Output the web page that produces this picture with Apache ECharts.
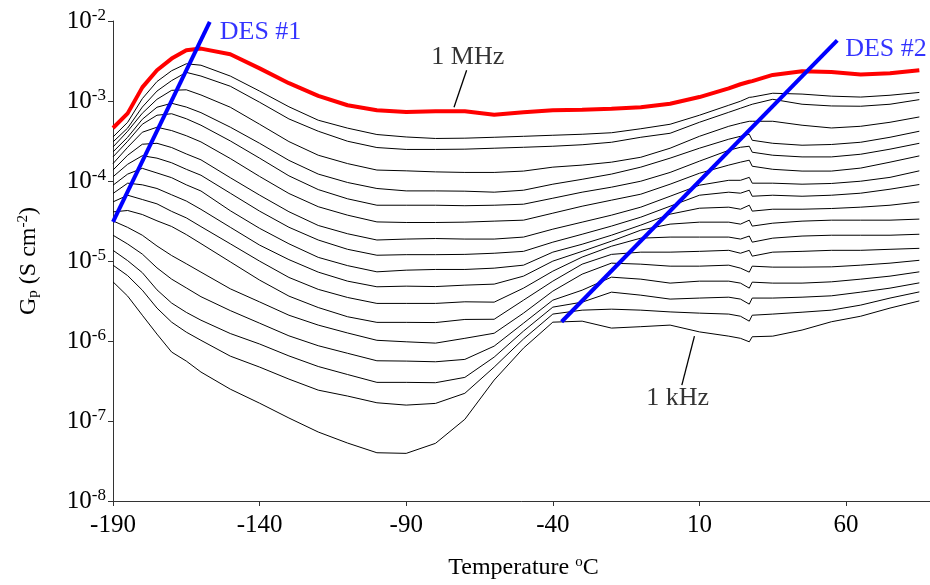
<!DOCTYPE html>
<html><head><meta charset="utf-8">
<script src="https://cdn.jsdelivr.net/npm/echarts/dist/echarts.min.js"></script>
<style>html,body{margin:0;padding:0;background:#fff}#chart{width:930px;height:585px}</style>
</head><body><div id="chart"></div>
<script>
// Temperature (°C) at which every frequency curve is sampled
const temperatureC = [-190,-185,-180,-175,-170,-165,-160,-150,-140,-130,-120,-110,-100,-90,-80,-70,-60,-50,-40,-30,-20,-10,0,10,20,24,27,28,35,45,55,65,75,85];

// Gp (S cm^-2), 1 MHz (red) down to 1 kHz
const gp1MHz = [4.6e-4,7.0e-4,1.48e-3,2.42e-3,3.39e-3,4.31e-3,4.52e-3,3.84e-3,2.56e-3,1.67e-3,1.16e-3,8.85e-4,7.67e-4,7.30e-4,7.44e-4,7.44e-4,6.73e-4,7.23e-4,7.67e-4,7.77e-4,8.0e-4,8.36e-4,9.24e-4,1.12e-3,1.44e-3,1.62e-3,1.74e-3,1.77e-3,2.12e-3,2.35e-3,2.31e-3,2.15e-3,2.22e-3,2.42e-3];
const gpB01 = [3.55e-4,5.42e-4,1.07e-3,1.75e-3,2.39e-3,2.92e-3,2.80e-3,2.05e-3,1.33e-3,8.47e-4,5.75e-4,4.58e-4,3.81e-4,3.55e-4,3.40e-4,3.43e-4,3.52e-4,3.62e-4,3.73e-4,3.84e-4,4.01e-4,4.50e-4,5.12e-4,6.64e-4,8.85e-4,9.93e-4,1.11e-3,1.12e-3,1.25e-3,1.22e-3,1.15e-3,1.12e-3,1.18e-3,1.28e-3];
const gpB02 = [3.08e-4,4.59e-4,8.40e-4,1.33e-3,1.80e-3,2.28e-3,2.05e-3,1.53e-3,9.65e-4,5.97e-4,4.19e-4,3.14e-4,2.62e-4,2.48e-4,2.48e-4,2.50e-4,2.57e-4,2.64e-4,2.72e-4,2.84e-4,3.05e-4,3.52e-4,3.95e-4,5.42e-4,7.23e-4,8.12e-4,8.85e-4,9.11e-4,1.05e-3,9.11e-4,8.67e-4,8.60e-4,9.11e-4,1.04e-3];
const gpB03 = [2.66e-4,4.19e-4,7.03e-4,1.05e-3,1.36e-3,1.38e-3,1.19e-3,8.36e-4,5.12e-4,3.11e-4,2.10e-4,1.65e-4,1.37e-4,1.34e-4,1.30e-4,1.28e-4,1.28e-4,1.33e-4,1.49e-4,1.58e-4,1.72e-4,1.98e-4,2.57e-4,3.62e-4,4.83e-4,5.27e-4,5.58e-4,5.58e-4,5.58e-4,4.98e-4,4.60e-4,4.83e-4,5.42e-4,6.32e-4];
const gpB04 = [2.31e-4,3.52e-4,5.91e-4,8.36e-4,9.37e-4,8.40e-4,7.15e-4,4.71e-4,2.96e-4,1.81e-4,1.22e-4,9.58e-5,8.06e-5,7.52e-5,7.52e-5,7.46e-5,7.25e-5,7.67e-5,9.12e-5,1.05e-4,1.22e-4,1.49e-4,1.93e-4,2.57e-4,3.33e-4,3.62e-4,3.84e-4,3.23e-4,2.96e-4,2.80e-4,2.86e-4,3.05e-4,3.52e-4,4.19e-4];
const gpB05 = [2.00e-4,3.14e-4,5.12e-4,6.64e-4,6.93e-4,6.00e-4,4.98e-4,3.17e-4,1.93e-4,1.16e-4,7.81e-5,5.99e-5,4.98e-5,4.98e-5,4.98e-5,4.91e-5,4.98e-5,5.13e-5,6.09e-5,7.25e-5,8.37e-5,9.94e-5,1.28e-4,1.77e-4,2.42e-4,2.64e-4,2.72e-4,2.29e-4,2.10e-4,2.00e-4,2.00e-4,2.16e-4,2.50e-4,2.96e-4];
const gpB06 = [1.65e-4,2.64e-4,4.07e-4,4.70e-4,4.27e-4,3.68e-4,3.08e-4,1.91e-4,1.14e-4,6.98e-5,4.77e-5,3.74e-5,3.08e-5,3.03e-5,3.03e-5,3.06e-5,3.15e-5,3.24e-5,3.96e-5,4.84e-5,5.76e-5,6.84e-5,9.12e-5,1.25e-4,1.58e-4,1.72e-4,1.82e-4,1.53e-4,1.40e-4,1.33e-4,1.33e-4,1.45e-4,1.72e-4,2.06e-4];
const gpB07 = [1.37e-4,2.10e-4,2.88e-4,2.96e-4,2.62e-4,2.18e-4,1.84e-4,1.10e-4,6.66e-5,4.13e-5,2.78e-5,2.19e-5,1.83e-5,1.88e-5,1.91e-5,1.88e-5,1.88e-5,1.99e-5,2.50e-5,3.06e-5,3.74e-5,4.71e-5,6.45e-5,8.86e-5,1.02e-4,1.02e-4,1.11e-4,9.39e-5,9.39e-5,9.12e-5,9.31e-5,9.94e-5,1.11e-4,1.34e-4];
const gpB08 = [1.13e-4,1.62e-4,2.07e-4,1.93e-4,1.69e-4,1.40e-4,1.18e-4,7.04e-5,4.20e-5,2.64e-5,1.83e-5,1.40e-5,1.18e-5,1.20e-5,1.20e-5,1.21e-5,1.25e-5,1.32e-5,1.72e-5,2.16e-5,2.73e-5,3.53e-5,4.84e-5,6.64e-5,7.25e-5,7.04e-5,7.67e-5,6.45e-5,6.64e-5,6.45e-5,6.64e-5,7.04e-5,7.90e-5,9.04e-5];
const gpB09 = [8.86e-5,1.22e-4,1.44e-4,1.26e-4,1.10e-4,8.96e-5,7.50e-5,4.25e-5,2.56e-5,1.64e-5,1.11e-5,8.75e-6,7.32e-6,7.68e-6,7.84e-6,7.84e-6,8.14e-6,8.87e-6,1.29e-5,1.62e-5,2.10e-5,2.81e-5,3.85e-5,4.57e-5,4.71e-5,4.44e-5,4.98e-5,4.20e-5,4.44e-5,4.44e-5,4.53e-5,4.71e-5,4.98e-5,5.48e-5];
const gpB10 = [6.98e-5,9.39e-5,8.96e-5,8.06e-5,6.72e-5,5.62e-5,4.42e-5,2.64e-5,1.58e-5,1.04e-5,7.26e-6,5.60e-6,4.76e-6,4.85e-6,4.79e-6,4.99e-6,5.14e-6,6.47e-6,9.96e-6,1.32e-5,1.77e-5,2.43e-5,2.89e-5,3.06e-5,3.06e-5,2.89e-5,3.24e-5,2.73e-5,2.97e-5,3.15e-5,3.24e-5,3.24e-5,3.24e-5,3.34e-5];
const gpB11 = [5.48e-5,6.64e-5,5.87e-5,5.18e-5,4.17e-5,3.46e-5,2.69e-5,1.64e-5,9.96e-6,6.23e-6,4.42e-6,3.50e-6,2.95e-6,2.95e-6,2.95e-6,3.09e-6,3.06e-6,4.58e-6,7.46e-6,1.12e-5,1.53e-5,1.93e-5,1.99e-5,1.99e-5,1.99e-5,1.88e-5,2.05e-5,1.72e-5,1.93e-5,2.05e-5,2.10e-5,2.10e-5,2.10e-5,2.16e-5];
const gpB12 = [4.11e-5,4.28e-5,3.81e-5,3.18e-5,2.70e-5,2.14e-5,1.65e-5,9.76e-6,5.77e-6,3.64e-6,2.62e-6,2.01e-6,1.71e-6,1.71e-6,1.70e-6,1.86e-6,1.87e-6,3.24e-6,5.60e-6,9.13e-6,1.21e-5,1.29e-5,1.29e-5,1.32e-5,1.36e-5,1.25e-5,1.36e-5,1.15e-5,1.29e-5,1.32e-5,1.36e-5,1.36e-5,1.40e-5,1.44e-5];
const gpB13 = [3.17e-5,2.63e-5,2.10e-5,1.54e-5,1.17e-5,9.24e-6,7.26e-6,4.49e-6,3.08e-6,2.10e-6,1.58e-6,1.26e-6,1.02e-6,9.77e-7,9.41e-7,1.08e-6,1.25e-6,2.23e-6,4.20e-6,6.85e-6,9.40e-6,9.13e-6,8.62e-6,8.62e-6,8.87e-6,8.14e-6,7.26e-6,8.62e-6,8.38e-6,8.38e-6,8.45e-6,8.87e-6,9.40e-6,1.02e-5];
const gpB14 = [2.10e-5,1.63e-5,1.22e-5,8.21e-6,5.93e-6,4.61e-6,3.58e-6,2.40e-6,1.67e-6,1.16e-6,8.73e-7,7.02e-7,5.66e-7,5.61e-7,5.50e-7,5.89e-7,8.63e-7,1.67e-6,3.24e-6,4.32e-6,6.28e-6,5.93e-6,5.29e-6,5.60e-6,5.60e-6,5.29e-6,4.58e-6,5.44e-6,5.29e-6,5.29e-6,5.49e-6,5.93e-6,6.47e-6,7.32e-6];
const gpB15 = [1.36e-5,1.01e-5,7.15e-6,4.36e-6,2.98e-6,2.28e-6,1.82e-6,1.24e-6,9.17e-7,6.51e-7,4.80e-7,3.81e-7,3.04e-7,3.04e-7,3.01e-7,3.51e-7,6.29e-7,1.33e-6,2.65e-6,3.06e-6,4.08e-6,3.74e-6,3.34e-6,3.44e-6,3.53e-6,3.34e-6,2.89e-6,3.44e-6,3.44e-6,3.53e-6,3.67e-6,4.08e-6,4.58e-6,5.33e-6];
const gpB16 = [8.87e-6,6.56e-6,4.32e-6,2.58e-6,1.72e-6,1.29e-6,1.02e-6,6.47e-7,4.72e-7,3.34e-7,2.43e-7,2.05e-7,1.69e-7,1.58e-7,1.66e-7,2.22e-7,4.72e-7,1.06e-6,2.17e-6,2.43e-6,2.50e-6,2.43e-6,2.31e-6,2.23e-6,2.17e-6,2.04e-6,1.77e-6,2.10e-6,2.17e-6,2.29e-6,2.43e-6,2.81e-6,3.44e-6,4.11e-6];
const gp1kHz = [5.49e-6,3.64e-6,2.10e-6,1.22e-6,7.27e-7,5.61e-7,4.09e-7,2.50e-7,1.67e-7,1.09e-7,7.28e-8,5.30e-8,4.01e-8,3.94e-8,5.26e-8,1.05e-7,3.25e-7,8.15e-7,1.72e-6,1.77e-6,1.45e-6,1.51e-6,1.58e-6,1.30e-6,1.15e-6,1.08e-6,9.77e-7,1.13e-6,1.15e-6,1.37e-6,1.74e-6,2.04e-6,2.58e-6,3.17e-6];

const blackCurves = [gpB01,gpB02,gpB03,gpB04,gpB05,gpB06,gpB07,gpB08,gpB09,gpB10,gpB11,gpB12,gpB13,gpB14,gpB15,gpB16,gp1kHz];

// DES lines: [temperature, Gp] end points
const des1Line = [[-190, 3.08e-5], [-157, 9.72e-3]];
const des2Line = [[-37, 1.74e-6], [57, 5.74e-3]];
// label pointer lines
const mhzPointer = [[-69.4, 2.42e-3], [-73.7, 8.36e-4]];
const khzPointer = [[4.0, 2.81e-7], [8.3, 1.15e-6]];
// text annotations
const annotationText = ['DES #1', 'DES #2', '1 MHz', '1 kHz'];
const annotationAt = [[-153.6, 7.2e-3], [59.7, 4.43e-3], [-69, 3.52e-3], [2.6, 1.93e-7]];

// tick labels
const xTickLabels = [-190, -140, -90, -40, 10, 60];
const yTickExponents = [-8, -7, -6, -5, -4, -3, -2];

const FONT = "'Liberation Serif','Times New Roman',serif";
const zip = vals => temperatureC.map((t, i) => [t, vals[i]]);

const series = [];
blackCurves.forEach((c, i) => series.push({
  type: 'line', data: zip(c), symbol: 'none', silent: true, z: 2,
  lineStyle: {color: '#000', width: 1}
}));
series.push({type: 'line', data: zip(gp1MHz), symbol: 'none', z: 3,
  lineStyle: {color: '#ff0000', width: 4}});
series.push({type: 'line', data: des1Line, symbol: 'none', z: 4,
  lineStyle: {color: '#0000ff', width: 4}});
series.push({type: 'line', data: des2Line, symbol: 'none', z: 4,
  lineStyle: {color: '#0000ff', width: 4}});
series.push({type: 'line', data: mhzPointer, symbol: 'none', z: 4,
  lineStyle: {color: '#000', width: 1.3}});
series.push({type: 'line', data: khzPointer, symbol: 'none', z: 4,
  lineStyle: {color: '#000', width: 1.3}});
series.push({
  type: 'scatter', symbolSize: 0, z: 5,
  data: annotationAt.map((p, i) => ({
    value: p,
    label: {
      show: true,
      formatter: annotationText[i],
      position: i < 2 ? 'right' : 'inside',
      distance: 0,
      color: i < 2 ? '#0000ff' : '#000',
      fontFamily: FONT, fontSize: 26
    }
  }))
});

const chart = echarts.init(document.getElementById('chart'), null, {renderer: 'canvas'});
chart.setOption({
  animation: false,
  backgroundColor: '#fff',
  grid: {left: 113, right: -4, top: 21, bottom: 84, containLabel: false, outerBoundsMode: 'none'},
  xAxis: {
    type: 'value', min: -190, max: 90, interval: 50,
    name: 'Temperature {sup|o}C', nameLocation: 'middle', nameGap: 54,
    nameTextStyle: {fontFamily: FONT, fontSize: 24, color: '#000',
      rich: {sup: {fontFamily: FONT, fontSize: 15, color: '#000', verticalAlign: 'top', padding: [0,0,10,0]}}},
    axisLine: {show: true, onZero: false, lineStyle: {color: '#333', width: 1}},
    axisTick: {show: true, length: 5, inside: false, lineStyle: {color: '#333'}},
    splitLine: {show: false},
    axisLabel: {
      fontFamily: FONT, fontSize: 25, color: '#000', margin: 12, showMaxLabel: false,
      formatter: v => xTickLabels.includes(v) ? String(v) : ''
    }
  },
  yAxis: {
    type: 'log', logBase: 10, min: 1e-8, max: 1e-2,
    name: '{n|G}{sub|p}{n| (S cm}{sup|-2}{n|)}', nameLocation: 'middle', nameGap: 72, nameRotate: 90,
    nameTextStyle: {fontFamily: FONT, fontSize: 24, color: '#000',
      rich: {
        n: {fontFamily: FONT, fontSize: 24, color: '#000'},
        sub: {fontFamily: FONT, fontSize: 15, color: '#000', verticalAlign: 'bottom', padding: [8,0,0,0]},
        sup: {fontFamily: FONT, fontSize: 15, color: '#000', verticalAlign: 'top', padding: [0,0,10,0]}
      }},
    axisLine: {show: true, onZero: false, lineStyle: {color: '#333', width: 1}},
    axisTick: {show: true, length: 5, inside: false, lineStyle: {color: '#333'}},
    splitLine: {show: false},
    minorTick: {show: false},
    axisLabel: {
      margin: 7, color: '#000',
      formatter: v => {
        const e = Math.round(Math.log10(v));
        return yTickExponents.includes(e) ? '{b|10}{s|' + e + '}' : '';
      },
      rich: {
        b: {fontFamily: FONT, fontSize: 25, color: '#000'},
        s: {fontFamily: FONT, fontSize: 17, color: '#000', verticalAlign: 'top', padding: [0,0,11,0]}
      }
    }
  },
  series: series
});
</script>
</body></html>
